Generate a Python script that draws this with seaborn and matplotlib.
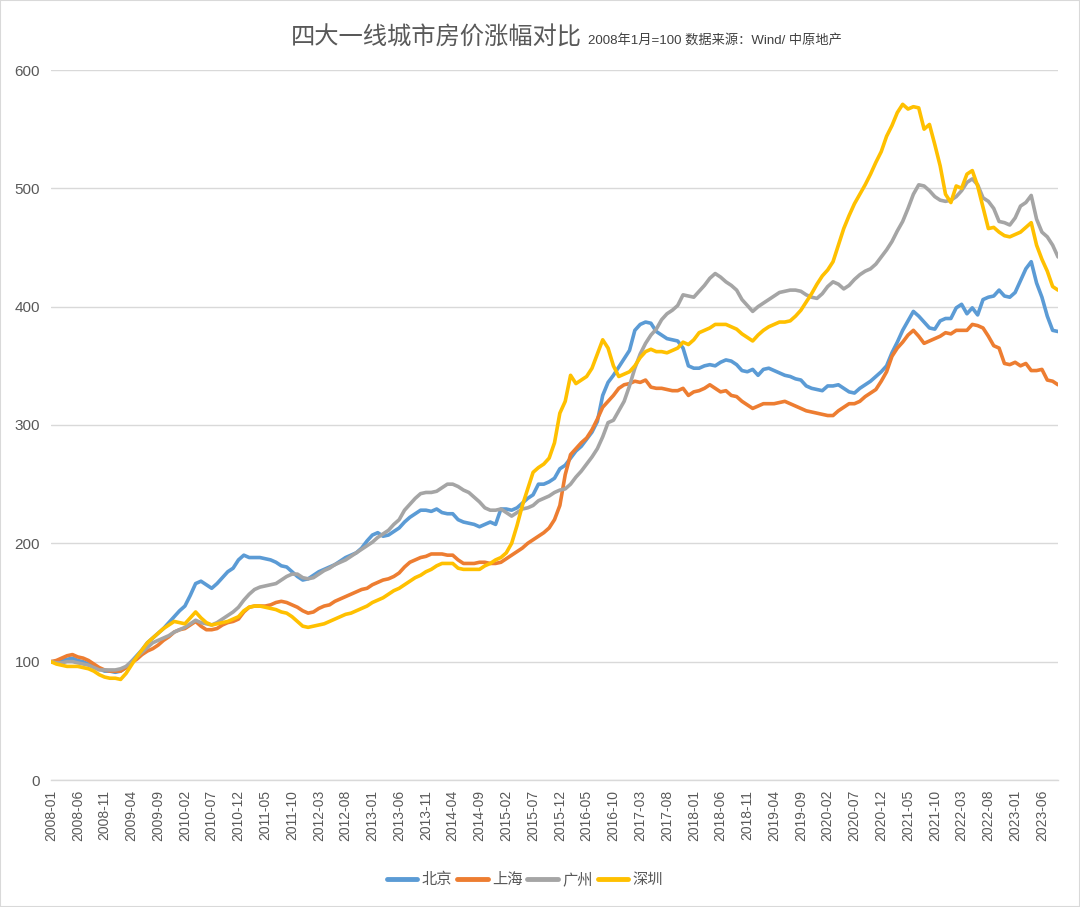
import numpy as np
import pandas as pd
import matplotlib
matplotlib.use("Agg")
import matplotlib.pyplot as plt
import seaborn as sns
from matplotlib.patches import Rectangle

# monthly index, 2008-01 = 100
months = pd.date_range("2008-01-01", periods=189, freq="MS").strftime("%Y-%m").tolist()
cities = ["北京", "上海", "广州", "深圳"]

beijing = [
    100, 100, 101, 102, 103, 101, 100, 98, 96, 94,
    92, 92, 91, 92, 95, 100, 105, 110, 116, 120,
    124, 128, 133, 138, 143, 147, 156, 166, 168, 165,
    162, 166, 171, 176, 179, 186, 190, 188, 188, 188,
    187, 186, 184, 181, 180, 176, 172, 169, 170, 173,
    176, 178, 180, 182, 185, 188, 190, 192, 196, 202,
    207, 209, 206, 207, 210, 213, 218, 222, 225, 228,
    228, 227, 229, 226, 225, 225, 220, 218, 217, 216,
    214, 216, 218, 216, 229, 229, 228, 230, 234, 238,
    241, 250, 250, 252, 255, 263, 266, 272, 278, 282,
    288, 294, 303, 325, 336, 342, 349, 356, 363, 380,
    385, 387, 386, 379, 376, 373, 372, 371, 365, 350,
    348, 348, 350, 351, 350, 353, 355, 354, 351, 346,
    345, 347, 342, 347, 348, 346, 344, 342, 341, 339,
    338, 333, 331, 330, 329, 333, 333, 334, 331, 328,
    327, 331, 334, 337, 341, 345, 350, 361, 370, 380,
    388, 396, 392, 387, 382, 381, 388, 390, 390, 399,
    402, 394, 399, 393, 406, 408, 409, 414, 409, 408,
    412, 422, 432, 438, 420, 408, 392, 380, 379,
]
shanghai = [
    100, 101, 103, 105, 106, 104, 103, 101, 98, 95,
    93, 92, 92, 92, 95, 99, 102, 106, 109, 111,
    114, 118, 121, 125, 127, 128, 131, 134, 130, 127,
    127, 128, 131, 133, 134, 136, 142, 146, 147, 147,
    147, 148, 150, 151, 150, 148, 146, 143, 141, 142,
    145, 147, 148, 151, 153, 155, 157, 159, 161, 162,
    165, 167, 169, 170, 172, 175, 180, 184, 186, 188,
    189, 191, 191, 191, 190, 190, 186, 183, 183, 183,
    184, 184, 183, 183, 184, 187, 190, 193, 196, 200,
    203, 206, 209, 213, 220, 232, 258, 275, 280, 285,
    289, 296, 305, 315, 320, 325, 331, 334, 335, 337,
    336, 338, 332, 331, 331, 330, 329, 329, 331, 325,
    328, 329, 331, 334, 331, 328, 329, 325, 324, 320,
    317, 314, 316, 318, 318, 318, 319, 320, 318, 316,
    314, 312, 311, 310, 309, 308, 308, 312, 315, 318,
    318, 320, 324, 327, 330, 337, 345, 358, 365, 370,
    376, 380, 375, 369, 371, 373, 375, 378, 377, 380,
    380, 380, 385, 384, 382, 375, 367, 365, 352, 351,
    353, 350, 352, 346, 346, 347, 338, 337, 334,
]
guangzhou = [
    100, 99, 99, 100, 100, 99, 98, 97, 95, 93,
    93, 93, 93, 94, 96, 100, 104, 108, 112, 116,
    118, 120, 122, 125, 127, 129, 132, 135, 133, 132,
    131, 133, 136, 139, 142, 146, 152, 157, 161, 163,
    164, 165, 166, 169, 172, 174, 174, 171, 170, 171,
    174, 177, 179, 182, 184, 186, 189, 192, 195, 198,
    201, 205, 208, 211, 216, 220, 228, 233, 238, 242,
    243, 243, 244, 247, 250, 250, 248, 245, 243, 239,
    235, 230, 228, 228, 229, 226, 223, 226, 229, 230,
    232, 236, 238, 240, 243, 245, 246, 250, 256, 261,
    267, 273, 280, 290, 302, 304, 312, 320, 333, 348,
    360, 369, 376, 381, 389, 394, 397, 401, 410, 409,
    408, 413, 418, 424, 428, 425, 421, 418, 414, 406,
    401, 396, 400, 403, 406, 409, 412, 413, 414, 414,
    413, 410, 408, 407, 411, 417, 421, 419, 415, 418,
    423, 427, 430, 432, 436, 442, 448, 455, 464, 472,
    483, 495, 503, 502, 498, 493, 490, 489, 490, 493,
    498, 505, 508, 503, 492, 489, 483, 472, 471, 469,
    475, 485, 488, 494, 474, 463, 459, 452, 442,
]
shenzhen = [
    100, 98, 97, 96, 96, 96, 95, 94, 92, 89,
    87, 86, 86, 85, 90, 97, 104, 110, 116, 120,
    124, 128, 131, 134, 133, 132, 137, 142, 137, 133,
    131, 132, 133, 134, 136, 138, 143, 146, 147, 147,
    146, 145, 144, 142, 141, 138, 134, 130, 129, 130,
    131, 132, 134, 136, 138, 140, 141, 143, 145, 147,
    150, 152, 154, 157, 160, 162, 165, 168, 171, 173,
    176, 178, 181, 183, 183, 183, 179, 178, 178, 178,
    178, 181, 183, 186, 188, 192, 200, 215, 232, 246,
    260, 264, 267, 272, 285, 310, 320, 342, 335, 338,
    341, 348, 360, 372, 365, 350, 341, 343, 345, 350,
    357, 362, 364, 362, 362, 361, 363, 365, 370, 368,
    372, 378, 380, 382, 385, 385, 385, 383, 381, 377,
    374, 371, 376, 380, 383, 385, 387, 387, 388, 392,
    397, 404, 411, 419, 426, 431, 438, 452, 466, 477,
    487, 495, 503, 512, 522, 531, 544, 553, 564, 571,
    567, 569, 568, 550, 554, 537, 519, 495, 488, 502,
    500, 512, 515, 502, 484, 466, 467, 463, 460, 459,
    461, 463, 467, 471, 452, 440, 430, 417, 414,
]
colors = ["#5B9BD5", "#ED7D31", "#A5A5A5", "#FFC000"]

df = pd.DataFrame({"idx": np.arange(len(months)), "month": months,
                   "北京": beijing, "上海": shanghai, "广州": guangzhou, "深圳": shenzhen})
long_df = df.melt(id_vars=["idx", "month"], value_vars=cities, var_name="city", value_name="value")

sns.set_theme(style="white")
plt.rcParams["font.family"] = ["Liberation Sans", "Noto Sans CJK SC", "DejaVu Sans"]

fig = plt.figure(figsize=(10.8, 9.07), dpi=100)
ax = fig.add_axes([51 / 1080, 1 - 780 / 907, (1058 - 51) / 1080, (780 - 70) / 907])

sns.lineplot(data=long_df, x="idx", y="value", hue="city", hue_order=cities,
             palette=colors, linewidth=2.6, ax=ax, legend=False,
             solid_joinstyle="round", solid_capstyle="round")

ax.set_xlim(0, len(months) - 1)
ax.set_ylim(0, 600)
ax.set_yticks(range(0, 601, 100))
ax.yaxis.grid(True, color="#D9D9D9", linewidth=1)
ax.set_axisbelow(True)
tick_pos = list(range(0, len(months), 5))
ax.set_xticks(tick_pos)
ax.set_xticklabels([months[i] for i in tick_pos], rotation=90)
ax.tick_params(axis="x", length=5, width=1, color="#BFBFBF", pad=2, labelsize=10, labelcolor="#595959", direction="out")
ax.tick_params(axis="y", length=0, pad=8, labelsize=11, labelcolor="#595959")
ax.set_xlabel("")
ax.set_ylabel("")
for s in ["left", "right", "top"]:
    ax.spines[s].set_visible(False)
ax.spines["bottom"].set_color("#D9D9D9")
ax.spines["bottom"].set_linewidth(1)

fig.text(582 / 1080, 1 - 45 / 907, "四大一线城市房价涨幅对比", ha="right", va="baseline",
         fontsize=17.5, color="#595959")
fig.text(588 / 1080, 1 - 44 / 907, "2008年1月=100 数据来源：Wind/ 中原地产", ha="left", va="baseline",
         fontsize=9.5, color="#404040")

handles = [plt.Line2D([], [], color=c, linewidth=3.5, solid_capstyle="round") for c in colors]
fig.legend(handles, cities, loc="center", bbox_to_anchor=(525 / 1080, 1 - 880 / 907), ncol=4,
           frameon=False, fontsize=11, handlelength=2.0, handletextpad=0.3, columnspacing=0.3,
           labelcolor="#595959")

fig.patches.append(Rectangle((0, 0), 1, 1, transform=fig.transFigure, fill=False,
                             edgecolor="#D9D9D9", linewidth=1.5))

fig.savefig("out.png", dpi=100)
